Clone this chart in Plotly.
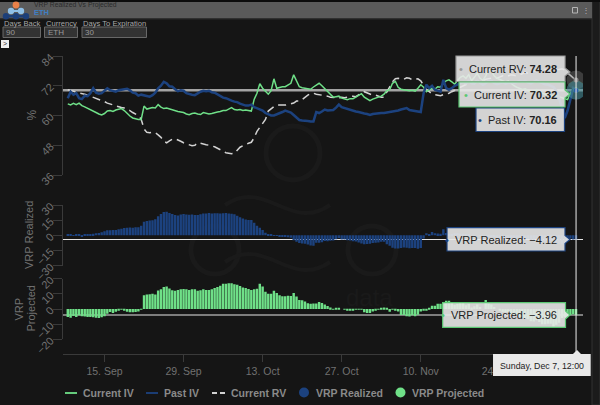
import pandas as pd
import plotly.graph_objects as go

# values, one point every 12 hours
dates = pd.date_range("2025-09-08 12:00", periods=181, freq="12h")

current_iv = [
    64.7, 64.3, 64.9, 64.4, 65.0, 64.0, 63.5, 63.0, 62.5, 62.0,
    61.2, 60.6, 60.2, 60.8, 61.8, 62.0, 61.6, 62.2, 62.4, 62.8,
    62.0, 60.8, 59.8, 59.0, 58.6, 58.4, 58.4, 63.8, 62.6, 62.8,
    63.2, 63.0, 64.4, 63.4, 62.8, 63.0, 62.6, 62.4, 62.0, 61.6,
    61.4, 61.2, 60.6, 60.3, 60.8, 61.0, 60.6, 60.4, 61.2, 60.8,
    60.6, 60.8, 61.2, 61.4, 61.6, 62.0, 62.0, 62.6, 63.2, 62.4,
    62.2, 62.4, 62.0, 62.2, 62.0, 61.8, 66.5, 69.0, 72.8, 71.0,
    69.8, 68.6, 70.0, 74.8, 71.0, 71.4, 71.6, 71.6, 72.4, 73.0,
    76.4, 74.0, 71.6, 71.2, 71.0, 70.8, 70.6, 71.5, 72.2, 73.0,
    72.0, 70.8, 69.6, 68.4, 67.4, 67.6, 67.8, 67.0, 66.8, 66.4,
    66.8, 66.8, 67.4, 68.0, 68.8, 67.4, 66.6, 66.0, 66.6, 67.0,
    67.4, 67.8, 68.6, 70.0, 70.4, 73.0, 73.8, 71.4, 70.6, 70.4,
    70.4, 70.0, 70.2, 69.8, 71.0, 72.4, 71.4, 69.6, 70.4, 71.0,
    70.6, 71.6, 71.4, 73.0, 74.0, 74.4, 73.6, 72.6, 74.0, 75.4,
    76.0, 75.0, 76.5, 74.0, 75.4, 77.0, 75.0, 74.2, 76.0, 78.5,
    78.0, 76.0, 75.0, 74.5, 74.0, 73.5, 74.0, 73.0, 72.0, 71.4,
    71.0, 70.5, 70.8, 70.2, 69.5, 69.8, 70.4, 69.8, 69.0, 68.6,
    68.4, 67.8, 68.2, 68.0, 67.6, 67.2, 66.8, 66.4, 69.0, 70.6,
    70.32,
]
past_iv = [
    67.0, 69.6, 68.4, 69.0, 67.0, 66.6, 68.0, 67.8, 69.0, 71.0,
    69.2, 68.8, 69.0, 70.0, 71.0, 70.2, 69.8, 69.6, 70.2, 70.4,
    70.6, 70.8, 70.2, 69.2, 69.0, 68.0, 68.4, 68.2, 67.8, 67.6,
    68.2, 69.2, 71.0, 72.0, 73.6, 73.0, 71.8, 71.6, 70.6, 69.8,
    70.2, 70.0, 69.0, 68.6, 68.4, 68.2, 69.0, 69.6, 70.0, 69.8,
    70.0, 69.4, 69.2, 68.6, 67.8, 67.2, 67.0, 66.4, 66.0, 65.6,
    65.4, 64.8, 64.4, 64.0, 64.0, 64.4, 63.4, 63.0, 62.6, 62.0,
    61.0, 60.4, 60.0, 60.0, 60.4, 61.0, 61.4, 62.0, 61.6, 61.2,
    60.2, 59.2, 58.2, 58.0, 58.0, 57.8, 57.6, 57.6, 61.4, 61.0,
    61.6, 62.4, 62.0, 62.0, 62.2, 63.2, 64.4, 63.4, 63.0, 62.6,
    62.4, 62.0, 61.6, 61.4, 61.0, 60.8, 60.6, 60.2, 60.6, 60.8,
    60.8, 61.0, 61.0, 61.2, 61.4, 61.4, 61.8, 62.0, 62.4, 62.6,
    63.0, 62.2, 62.0, 62.0, 61.6, 61.4, 69.0, 72.4, 71.0, 72.0,
    70.4, 70.0, 69.6, 74.4, 71.0, 70.4, 71.0, 72.0, 72.6, 73.0,
    73.6, 73.0, 74.0, 73.0, 72.8, 74.0, 73.0, 72.4, 73.0, 74.0,
    74.0, 73.0, 72.6, 73.0, 73.4, 72.8, 73.0, 73.4, 73.0, 73.6,
    74.0, 73.6, 74.0, 73.4, 73.0, 73.6, 74.2, 73.6, 73.0, 72.6,
    72.5, 72.0, 71.5, 70.0, 67.0, 63.0, 59.0, 62.0, 66.0, 71.0,
    70.16,
]
current_rv = [
    70.4, 70.2, 69.8, 69.4, 69.2, 68.8, 68.6, 68.2, 67.8, 67.4,
    67.0, 66.6, 66.0, 65.6, 65.0, 64.6, 64.2, 64.0, 63.6, 63.2,
    63.0, 62.6, 62.0, 61.2, 60.6, 60.0, 58.5, 54.6, 53.2, 53.0,
    53.2, 53.0, 52.2, 51.2, 49.6, 49.0, 49.8, 50.4, 50.6, 50.2,
    49.6, 49.0, 48.6, 48.2, 47.8, 48.0, 49.0, 48.8, 48.4, 48.2,
    48.0, 47.8, 47.4, 46.8, 46.2, 45.4, 45.0, 44.8, 44.6, 44.8,
    46.0, 47.2, 47.8, 48.4, 48.8, 49.2, 51.0, 53.6, 55.2, 56.6,
    58.4, 61.8, 62.8, 63.6, 64.2, 64.2, 64.0, 64.2, 64.4, 64.6,
    65.0, 65.8, 65.8, 66.4, 67.4, 68.2, 68.8, 69.0, 68.6, 68.4,
    68.4, 68.0, 67.8, 67.4, 67.2, 67.0, 67.0, 67.4, 67.2, 67.4,
    67.6, 67.8, 67.6, 68.4, 69.0, 69.6, 69.2, 68.6, 68.2, 68.2,
    67.8, 67.4, 67.4, 69.5, 71.6, 73.6, 74.8, 75.0, 74.8, 74.6,
    75.2, 75.0, 74.4, 74.6, 74.8, 74.0, 72.0, 70.4, 69.6, 68.8,
    68.4, 68.2, 68.0, 68.4, 68.6, 69.0, 69.6, 70.0, 70.6, 71.4,
    72.0, 72.6, 73.0, 73.0, 73.6, 74.0, 73.6, 74.2, 74.6, 74.8,
    75.0, 74.6, 75.0, 75.4, 76.0, 75.6, 76.0, 76.4, 76.2, 76.0,
    76.4, 77.0, 77.4, 77.0, 77.6, 78.0, 77.8, 78.4, 79.0, 78.6,
    78.2, 77.6, 78.0, 78.4, 78.6, 78.8, 78.4, 77.2, 76.0, 75.2,
    74.28,
]
vrp_realized = [
    0.5, 1.2, -0.4, 0.4, 1.0, -1.0, 1.0, 0.6, 1.0, 1.5,
    2.0, 2.2, 3.0, 4.0, 5.0, 5.0, 5.2, 5.4, 6.0, 6.6,
    7.2, 7.6, 7.8, 7.6, 8.0, 8.0, 9.5, 13.4, 14.2, 14.6,
    15.0, 16.0, 18.8, 21.0, 23.2, 23.4, 22.0, 21.0, 20.0, 19.6,
    20.6, 21.0, 20.6, 20.4, 20.6, 20.2, 20.0, 20.8, 21.6, 21.6,
    22.0, 21.6, 21.8, 21.8, 21.6, 21.8, 22.0, 21.6, 21.4, 20.8,
    19.4, 18.0, 16.6, 15.6, 15.2, 15.2, 12.4, 9.4, 7.4, 5.4,
    2.6, 1.0, 0.4, -0.2, -0.6, -1.0, -1.4, -1.6, -2.0, -2.4,
    -4.8, -6.4, -7.6, -8.0, -8.4, -9.0, -10.0, -10.4, -7.2, -7.4,
    -6.8, -5.6, -5.8, -5.4, -5.0, -3.8, -2.6, -4.0, -4.2, -4.8,
    -5.2, -5.8, -6.0, -7.0, -8.0, -8.8, -8.6, -8.4, -7.6, -7.4,
    -7.0, -6.4, -6.4, -8.8, -10.2, -12.2, -13.0, -13.0, -12.4, -12.0,
    -12.2, -12.8, -12.4, -12.6, -13.2, -12.6, -3.0, 2.0, 1.4, 3.2,
    2.0, 1.8, 1.6, 6.0, 2.4, 1.4, 1.4, 2.0, 2.0, 1.6,
    1.6, 0.4, 1.0, 0.0, -0.8, 0.0, -0.6, -1.8, -1.6, -0.8,
    -1.0, -1.6, -2.4, -2.4, -2.6, -2.8, -3.0, -3.0, -3.2, -2.4,
    -2.4, -3.4, -3.4, -3.6, -4.6, -4.4, -3.6, -4.8, -6.0, -6.0,
    -5.7, -5.6, -6.5, -7.0, -8.0, -9.0, -9.0, -5.0, -3.0, -4.0,
    -4.12,
]
vrp_projected = [
    -5.2, -5.8, -4.6, -5.2, -4.2, -4.8, -5.0, -5.2, -5.2, -5.4,
    -5.8, -6.0, -5.4, -4.8, -3.2, -2.0, -2.6, -1.8, -1.2, -0.4,
    -1.0, -1.8, -2.2, -2.2, -2.0, -1.6, 0.1, 9.0, 9.6, 9.8,
    10.0, 9.6, 12.2, 13.0, 14.6, 14.8, 13.6, 12.4, 12.0, 12.6,
    13.0, 13.2, 13.0, 12.6, 13.0, 13.0, 12.0, 12.4, 13.0, 12.6,
    12.6, 13.0, 13.8, 14.6, 15.4, 16.6, 16.6, 17.0, 17.0, 16.4,
    16.0, 15.2, 14.2, 13.8, 13.2, 12.6, 13.0, 13.4, 16.6, 14.8,
    11.4, 10.0, 10.0, 12.0, 10.6, 9.0, 8.4, 8.4, 8.8, 8.6,
    10.6, 8.2, 6.0, 5.8, 5.0, 3.8, 3.4, 3.6, 3.6, 4.6,
    4.0, 3.0, 2.0, 1.0, 0.2, 0.6, 0.8, 0.0, -0.4, -1.0,
    -0.8, -1.0, -0.2, -0.4, -0.2, -2.2, -2.6, -2.6, -1.6, -1.2,
    -0.4, 0.4, 1.0, 0.5, -1.8, -0.2, -1.0, -1.6, -4.0, -4.0,
    -4.8, -5.0, -4.2, -4.8, -3.8, -1.6, -0.6, -0.8, 0.8, 2.2,
    2.2, 3.4, 3.4, 4.6, 5.4, 5.4, 4.0, 2.6, 3.4, 4.0,
    4.0, 2.4, 3.5, 1.0, 1.8, 3.0, 1.4, 0.0, 6.0, 3.7,
    3.0, 1.4, 0.0, -0.9, -2.0, -2.1, -2.0, -3.4, -4.2, -4.6,
    -5.4, -6.5, -6.6, -6.8, -8.1, -8.2, -7.4, -8.6, -10.0, -10.0,
    -9.8, -9.8, -11.5, -10.4, -9.0, -6.0, -5.5, -5.0, -4.0, -3.5,
    -3.96,
]

x_tick_dates = ["2025-09-15", "2025-09-29", "2025-10-13", "2025-10-27", "2025-11-10", "2025-11-24"]
x_tick_labels = ["15. Sep", "29. Sep", "13. Oct", "27. Oct", "10. Nov", "24. Nov"]
main_ticks = [36, 48, 60, 72, 84]
realized_ticks = [-30, -15, 0, 15, 30]
projected_ticks = [-20, -10, 0, 10, 20]

GREEN = "#6fe088"
NAVY = "#1c427f"
FONT = "Liberation Sans"
AXIS_COLOR = "#3a3a3a"
LABEL_COLOR = "#717171"
WATERMARK = "#1a1a1a"


# pixel position in the 600x405 window -> paper coordinates
def px(x):
    return x / 600


def py(y):
    return 1 - y / 405


fig = go.Figure()

fig.add_trace(go.Bar(x=dates, y=vrp_realized, yaxis="y2", marker=dict(color=NAVY, line_width=0), name="VRP Realized"))
fig.add_trace(go.Bar(x=dates, y=vrp_projected, yaxis="y3", marker=dict(color=GREEN, line_width=0), name="VRP Projected"))
fig.add_trace(go.Scatter(x=dates, y=current_rv, mode="lines", name="Current RV",
                         line=dict(color="#d2d2d2", width=1.5, dash="8px,5px")))
fig.add_trace(go.Scatter(x=dates, y=current_iv, mode="lines", name="Current IV", line=dict(color=GREEN, width=1.5)))
fig.add_trace(go.Scatter(x=dates, y=past_iv, mode="lines", name="Past IV", line=dict(color=NAVY, width=2.5)))

# hover halos on the last point
halos = [(current_rv, "#8a8a8a"), (current_iv, GREEN), (past_iv, "#2a5aa5")]
for values, color in halos:
    fig.add_trace(go.Scatter(x=[dates[-1]], y=[values[-1]], mode="markers", showlegend=False,
                             marker=dict(size=19, color=color, opacity=0.35, line_width=0)))
for values, color in halos:
    fig.add_trace(go.Scatter(x=[dates[-1]], y=[values[-1]], mode="markers", showlegend=False,
                             marker=dict(size=5, color=color, line_width=0)))

shapes = []
annotations = []


def rect(x0, y0, x1, y1, fill, line="rgba(0,0,0,0)", width=0, layer="below"):
    shapes.append(dict(type="rect", xref="paper", yref="paper", x0=px(x0), x1=px(x1), y0=py(y0), y1=py(y1),
                       fillcolor=fill, line=dict(color=line, width=width), layer=layer))


def circle(cx, cy, r, fill="rgba(0,0,0,0)", line="rgba(0,0,0,0)", width=0, layer="below"):
    shapes.append(dict(type="circle", xref="paper", yref="paper", x0=px(cx - r), x1=px(cx + r),
                       y0=py(cy + r), y1=py(cy - r), fillcolor=fill, line=dict(color=line, width=width), layer=layer))


def label(x, y, text, size, color, xanchor="left", angle=0):
    annotations.append(dict(xref="paper", yref="paper", x=px(x), y=py(y), text=text, showarrow=False,
                            xanchor=xanchor, yanchor="middle", textangle=angle, borderpad=0,
                            font=dict(family=FONT, size=size, color=color)))


def tooltip(x0, y0, x1, y1, border, tip=None):
    pts = [(x0, y0), (x1, y0)]
    if tip:
        pts += [(x1, tip[1] - 4), tip, (x1, tip[1] + 4)]
    pts += [(x1, y1), (x0, y1)]
    path = "M " + " L ".join(f"{px(a):.4f} {py(b):.4f}" for a, b in pts) + " Z"
    shapes.append(dict(type="path", xref="paper", yref="paper", path=path, layer="above",
                       fillcolor="rgba(232,232,232,0.9)", line=dict(color=border, width=1.2)))


# window chrome
rect(592, 0, 600, 405, "#1b1b1b", "#333333", 1)
rect(0, 0, 600, 2, "#0c0c0c")
rect(0, 2, 592, 18.5, "#5a5a5a")
rect(0, 18.5, 592, 19.5, "#2a2a2a")

# logo
circle(16, 5, 3.4, fill="#e9814a")
circle(11, 11, 3.2, fill="#8fbfe6")
circle(21, 11, 3.2, fill="#8fbfe6")
rect(11, 10, 21, 12, "#8fbfe6")
for cx in (6, 16, 26):
    circle(cx, 16.2, 3.2, fill="#1d3f78")
rect(6, 15, 26, 17.5, "#1d3f78")

label(33, 5, "VRP Realized Vs Projected", 6.8, "#2b2b2b")
label(33, 12, "<b>ETH</b>", 7.5, "#3f7fc4")
rect(572.5, 7.5, 577.5, 13, "rgba(0,0,0,0)", "#b5b5b5", 1)
label(586, 10, "⋮", 8, "#b5b5b5", "center")

# selector boxes
selectors = [(3, 40.5, "Days Back", "90"), (44.5, 77.5, "Currency", "ETH"), (82, 146.5, "Days To Expiration", "30")]
for x0, x1, title, value in selectors:
    label(x0, 23.5, title, 7.6, "#a8a8a8")
    shapes.append(dict(type="rect", xref="paper", yref="paper", x0=px(x0), x1=px(x1), y0=py(37.5), y1=py(27),
                       fillcolor="#333333", line=dict(color="#686868", width=1), layer="below"))
    label(x0 + 2, 32.3, value, 8, "#9a9a9a")
rect(1, 40, 9, 48, "#f0f0f0")
label(5, 44, "&gt;", 7, "#333333", "center")

# faint watermark
for cx, cy, r in [(293, 153, 27), (215, 250, 24), (372, 250, 24)]:
    circle(cx, cy, r, line=WATERMARK, width=5)
for y_mid in (205, 262):
    path = f"M {px(225):.4f} {py(y_mid):.4f} C {px(265):.4f} {py(y_mid - 28):.4f}, {px(290):.4f} {py(y_mid + 28):.4f}, {px(330):.4f} {py(y_mid):.4f}"
    shapes.append(dict(type="path", xref="paper", yref="paper", path=path, layer="below",
                       line=dict(color=WATERMARK, width=4)))
label(345, 297, "data", 24, WATERMARK)

# crosshair through the hovered point
for yref, value, color, width in [("y", past_iv[-1], "#a4a4a4", 2.6), ("y2", vrp_realized[-1], "#e6e6e6", 1.2),
                                  ("y3", vrp_projected[-1], "#e6e6e6", 1.2)]:
    shapes.append(dict(type="line", xref="paper", yref=yref, x0=px(63), x1=px(583), y0=value, y1=value,
                       line=dict(color=color, width=width), layer="below"))
shapes.append(dict(type="line", xref="x", yref="paper", x0=dates[-1], x1=dates[-1], y0=py(354), y1=py(56),
                   line=dict(color="#eeeeee", width=1), layer="above"))

# tooltips
tooltip(456, 56, 565, 81.5, "#9a9a9a", (570, 72))
label(558, 69, f"<span style='color:#999999'>•</span>  Current RV: <b>{current_rv[-1]:.2f}</b>", 11, "#222222", "right")
tooltip(476, 108, 564.5, 131.5, NAVY)
label(558, 120, f"<span style='color:{NAVY}'>•</span>  Past IV: <b>{past_iv[-1]:.2f}</b>", 11, "#222222", "right")
tooltip(459, 82, 565, 107, "#5bc873", (570, 94))
label(558, 94.5, f"<span style='color:#5bc873'>•</span>  Current IV: <b>{current_iv[-1]:.2f}</b>", 11, "#222222", "right")
tooltip(447, 227.7, 565, 251, NAVY, (570, 239.5))
label(558, 239.5, f"<span style='color:{NAVY}'>•</span>  VRP Realized: −{abs(vrp_realized[-1]):.2f}", 11, "#222222", "right")
tooltip(442.7, 302.7, 565.5, 327.3, "#5bc873", (570, 315))
label(558, 315, f"<span style='color:#5bc873'>•</span>  VRP Projected: −{abs(vrp_projected[-1]):.2f}", 11, "#222222", "right")
shapes.append(dict(type="path", xref="paper", yref="paper", layer="above", fillcolor="#e9e9e9",
                   line=dict(color="#e9e9e9", width=0),
                   path=f"M {px(493):.4f} {py(376):.4f} L {px(590.7):.4f} {py(376):.4f} L {px(590.7):.4f} {py(354):.4f} "
                        f"L {px(581):.4f} {py(354):.4f} L {px(577):.4f} {py(350):.4f} L {px(573):.4f} {py(354):.4f} "
                        f"L {px(493):.4f} {py(354):.4f} Z"))
label(541.8, 365.5, "Sunday, Dec 7, 12:00", 8.8, "#222222", "center")

# axis titles
label(31, 115.5, "%", 12, LABEL_COLOR, "center", -90)
label(29, 235, "VRP Realized", 11, LABEL_COLOR, "center", -90)
label(18.5, 309, "VRP", 11, LABEL_COLOR, "center", -90)
label(30.5, 309, "Projected", 11, LABEL_COLOR, "center", -90)

# legend
legend_lines = [(65, 77, GREEN, None, 82, "Current IV"), (146, 158, NAVY, None, 163, "Past IV"),
                (212, 225, "#d2d2d2", "5px,3px", 230, "Current RV")]
for x0, x1, color, dash, text_x, text in legend_lines:
    shapes.append(dict(type="line", xref="paper", yref="paper", x0=px(x0), x1=px(x1), y0=py(393), y1=py(393),
                       line=dict(color=color, width=1.8, dash=dash or "solid"), layer="above"))
    label(text_x, 393, f"<b>{text}</b>", 10.5, "#8a8a8a")
circle(304, 392.5, 5, fill=NAVY, layer="above")
label(315, 393, "<b>VRP Realized</b>", 10.5, "#8a8a8a")
circle(400.5, 392.5, 5, fill=GREEN, layer="above")
label(411, 393, "<b>VRP Projected</b>", 10.5, "#8a8a8a")

y_common = dict(
    anchor="x",
    showgrid=False,
    zeroline=False,
    showline=True,
    linecolor=AXIS_COLOR,
    ticks="outside",
    ticklen=9,
    tickcolor=AXIS_COLOR,
    tickangle=-45,
    tickfont=dict(family=FONT, size=11, color=LABEL_COLOR),
)

fig.update_layout(
    width=600,
    height=405,
    autosize=False,
    margin=dict(l=0, r=0, t=0, b=0, autoexpand=False),
    paper_bgcolor="#151515",
    plot_bgcolor="rgba(0,0,0,0)",
    showlegend=False,
    barmode="overlay",
    bargap=0.14,
    shapes=shapes,
    annotations=annotations,
    xaxis=dict(
        domain=[px(63), px(583)],
        range=["2025-09-07 15:40", "2025-12-08 17:30"],
        anchor="free",
        position=py(354),
        showgrid=False,
        showline=True,
        linecolor=AXIS_COLOR,
        ticks="outside",
        ticklen=7,
        tickcolor=AXIS_COLOR,
        tickvals=x_tick_dates,
        ticktext=x_tick_labels,
        tickangle=0,
        tickfont=dict(family=FONT, size=10.5, color=LABEL_COLOR),
    ),
    yaxis=dict(domain=[py(175), py(56)], range=[36, 84], tickvals=main_ticks, **y_common),
    yaxis2=dict(domain=[py(265.7), py(205)], range=[-30, 30], tickvals=realized_ticks, **y_common),
    yaxis3=dict(domain=[py(339.3), py(278.7)], range=[-20, 20], tickvals=projected_ticks, **y_common),
)

fig.write_html(
    "out.html",
    config={"displayModeBar": False},
    post_script="document.body.style.margin='0';document.body.style.background='#151515';",
)
